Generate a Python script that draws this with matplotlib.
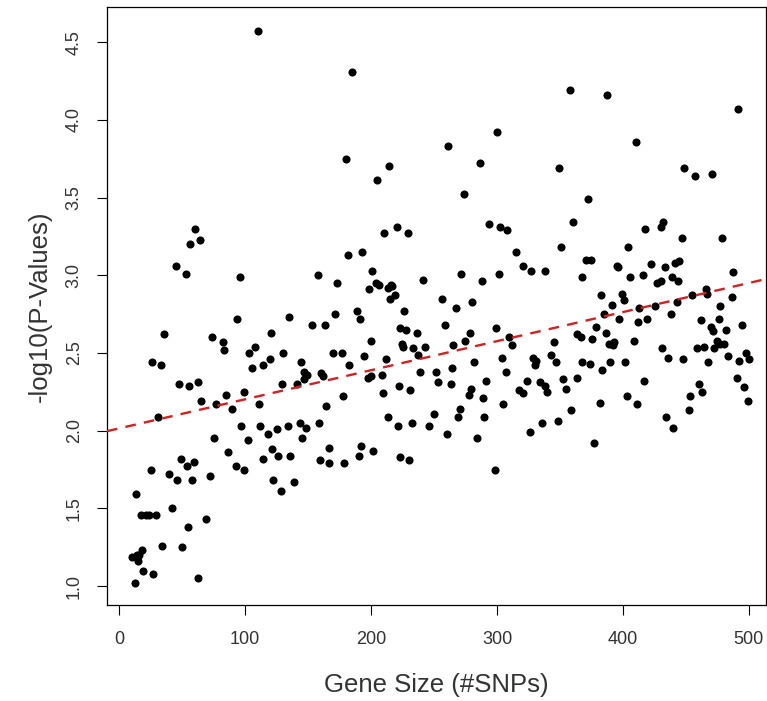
import matplotlib
matplotlib.use("Agg")
import matplotlib.pyplot as plt
import numpy as np

plt.rcParams['font.family'] = ['Liberation Sans', 'DejaVu Sans']

# Gene size (#SNPs) and -log10(P) values
gene_size = [
    30.5, 64.9, 76.5, 85, 89.8, 99.3, 111, 164.4,
    24.9, 13.3, 17, 21, 23.8, 28.9, 41.9, 54.6, 68.9, 34.2, 49.8,
    10.3, 13.8, 14.9, 18, 15.4, 19.1, 26.5, 12.2, 62.8,
    39.2, 46.1, 48.7, 53.8, 59.3, 57.5, 71.8, 75.5, 86.1, 92.7, 98.8, 96.4, 102.5,
    112, 117.9, 125.3, 133.7, 143.5, 148.3, 145.1, 158.6, 114.4, 121.3, 126.3,
    135.6, 122.3, 128.2, 138.8, 159.4, 166.8, 166.8,
    60.4, 56.2, 64.1, 45, 52.7, 95.6, 157.8, 93.5, 134.8, 152.8, 163.6, 35.5,
    73.6, 82.1, 83.2, 120.5, 108, 103.3, 130, 25.7, 33.4, 105.2, 113.9, 119.5,
    144.3, 146.7, 148.8, 146.5, 160.2, 47.2, 55.4, 62.3, 129, 141.4,
    110.2,
    184.6, 179.8, 204.4, 214.2, 261.1, 286.7, 300.2, 273.5,
    357.7, 387.4, 491.4, 410.2, 349, 448.5, 457, 470.5, 372,
    220.8, 210.2, 229.5, 293.6, 302.4, 308.2, 181.7, 193, 314.8, 320.4, 327,
    338.4, 200.7, 173.2, 198.1, 203.9, 206.5, 215.8, 213.7, 216.4, 215, 219.2,
    241, 271.6, 301.3, 287.8, 256.3, 280.1, 267.4, 226.4, 171.1, 188.6, 191.2,
    259, 299.2, 223.2, 227.7, 236.2, 278.3, 274.3, 309.3, 311.9, 199.7, 224.5,
    225.6, 233.3, 242.8, 264.8, 237.5, 170, 176.9, 194.1, 211.6, 282, 304.2,
    328.9, 330.2, 331, 182.7, 162, 239.1, 251.5, 264, 306.9, 197.3, 199.7,
    208.4, 253.1, 263.2, 291.5, 221.9, 231.1, 209.2, 177.9, 323.6, 317.7, 320.9,
    334.2, 338.1, 339.5, 279.3, 277.5, 288.6,
    304.8, 213.6, 221.2, 232.5, 249.7, 245.7, 260, 270.6, 268.8, 289.4, 284.1,
    326, 335.7, 178.7, 192.2, 190.4, 201.7, 222.7, 230.3, 298.4,
    360.4, 417.8, 430.3, 432.1, 446.7, 478.9, 350.8, 404.2, 370.9, 374.7, 367.3,
    395.3, 396.1, 422.6, 433.2, 441.4, 444.8, 405.4, 416, 439.2, 487.7, 427.3,
    430, 444, 382.4, 399.5, 400.6, 391.1, 385, 413, 425.7, 442.7, 454.9, 465.8,
    466.6, 486.7, 477.1, 437.9, 396.9, 412, 418.9, 378.6, 461.8, 476.1, 469.7,
    471.8, 481.9, 494.4, 363.8, 366.7, 375.7, 386.6, 389, 392.9, 391.9, 409.1,
    345.3, 474.5, 477.1, 480.3, 458.6, 464.6, 472.4, 431.3, 342.9, 347.1, 367.8,
    373.9, 390, 401.7, 383.4, 436.1, 447.5, 467.8, 483.2, 492.5, 497.8, 500.2,
    363.3, 352.7, 354.8, 416.8, 460.7, 462.8, 490.6, 496.4, 403.5, 453.3,
    348.2, 358.5, 381.6, 376.8, 411.2, 434, 439.8, 452.5, 499.1,
]
neg_log10_p = [
    2.09, 2.19, 2.17, 2.23, 2.14, 2.25, 2.17, 2.16,
    1.75, 1.59, 1.46, 1.46, 1.46, 1.46, 1.50, 1.38, 1.43, 1.26, 1.25,
    1.19, 1.20, 1.16, 1.23, 1.20, 1.10, 1.08, 1.02, 1.05,
    1.72, 1.68, 1.82, 1.77, 1.80, 1.68, 1.71, 1.95, 1.86, 1.77, 1.75, 2.03, 1.94,
    2.03, 1.98, 2.01, 2.03, 2.05, 2.02, 1.95, 2.05, 1.82, 1.88, 1.84,
    1.84, 1.68, 1.61, 1.67, 1.81, 1.89, 1.79,
    3.30, 3.20, 3.23, 3.06, 3.01, 2.99, 3.00, 2.72, 2.73, 2.68, 2.68, 2.62,
    2.60, 2.57, 2.52, 2.63, 2.54, 2.50, 2.50, 2.44, 2.42, 2.40, 2.42, 2.46,
    2.44, 2.38, 2.36, 2.33, 2.37, 2.30, 2.29, 2.31, 2.30, 2.30,
    4.57,
    4.31, 3.75, 3.61, 3.70, 3.83, 3.72, 3.92, 3.52,
    4.19, 4.16, 4.07, 3.86, 3.69, 3.69, 3.64, 3.65, 3.49,
    3.31, 3.27, 3.27, 3.33, 3.31, 3.29, 3.13, 3.15, 3.15, 3.06, 3.03,
    3.03, 3.03, 2.95, 2.91, 2.95, 2.94, 2.94, 2.92, 2.93, 2.85, 2.87,
    2.97, 3.01, 3.01, 2.96, 2.85, 2.83, 2.79, 2.77, 2.75, 2.77, 2.72,
    2.68, 2.66, 2.66, 2.65, 2.63, 2.63, 2.58, 2.60, 2.55, 2.58, 2.56,
    2.54, 2.53, 2.54, 2.55, 2.49, 2.50, 2.50, 2.48, 2.46, 2.44, 2.47,
    2.47, 2.42, 2.45, 2.42, 2.35, 2.38, 2.38, 2.40, 2.38, 2.34, 2.35,
    2.36, 2.31, 2.30, 2.32, 2.29, 2.26, 2.24, 2.22, 2.32, 2.26, 2.24,
    2.31, 2.29, 2.25, 2.27, 2.23, 2.21,
    2.17, 2.09, 2.03, 2.05, 2.11, 2.03, 1.98, 2.14, 2.09, 2.09, 1.95,
    1.99, 2.05, 1.79, 1.90, 1.84, 1.87, 1.83, 1.81, 1.75,
    3.34, 3.30, 3.31, 3.34, 3.24, 3.24, 3.18, 3.18, 3.10, 3.10, 2.99,
    3.06, 3.05, 3.07, 3.05, 3.08, 3.09, 2.99, 3.00, 2.99, 3.02, 2.95,
    2.96, 2.96, 2.87, 2.88, 2.84, 2.81, 2.75, 2.79, 2.80, 2.83, 2.87, 2.91,
    2.88, 2.86, 2.80, 2.75, 2.72, 2.70, 2.72, 2.67, 2.71, 2.72, 2.67,
    2.64, 2.65, 2.68, 2.62, 2.60, 2.59, 2.63, 2.56, 2.57, 2.55, 2.58,
    2.57, 2.58, 2.56, 2.56, 2.53, 2.54, 2.53, 2.53, 2.49, 2.44, 2.44,
    2.43, 2.44, 2.44, 2.39, 2.47, 2.46, 2.44, 2.48, 2.45, 2.50, 2.46,
    2.34, 2.33, 2.27, 2.32, 2.30, 2.25, 2.34, 2.28, 2.22, 2.22,
    2.06, 2.13, 2.18, 1.92, 2.17, 2.09, 2.02, 2.13, 2.19,
]

# Fitted regression line
fit_intercept = 2.015
fit_slope = 0.00187

x_ticks = [0, 100, 200, 300, 400, 500]
y_ticks = [1.0, 1.5, 2.0, 2.5, 3.0, 3.5, 4.0, 4.5]

fig = plt.figure(figsize=(7.67, 7.01), dpi=100)
ax = fig.add_axes([0.1395, 0.1369, 0.8592, 0.8531])

text_color = '#333333'

ax.scatter(gene_size, neg_log10_p, s=34, color='black', linewidths=0, zorder=2)

xlim = (-9.8, 513.7)
xs = np.array(xlim)
ax.plot(xs, fit_intercept + fit_slope * xs, color='#d42020', linewidth=1.7,
        linestyle=(0, (4.5, 3.5)), zorder=3)

ax.set_xlim(*xlim)
ax.set_ylim(0.878, 4.726)

ax.set_xticks(x_ticks)
ax.set_xticklabels([str(t) for t in x_ticks])
ax.set_yticks(y_ticks)
ax.set_yticklabels([f"{t:.1f}" for t in y_ticks], rotation=90, va='center')

ax.tick_params(axis='both', direction='out', length=7.5, width=0.8,
               labelsize=13, colors='black', labelcolor=text_color, pad=11)
ax.tick_params(axis='y', pad=10)

for sp in ax.spines.values():
    sp.set_linewidth(0.9)
    sp.set_color('black')

ax.set_xlabel('Gene Size (#SNPs)', fontsize=18.5, color=text_color, labelpad=18)
ax.set_ylabel('-log10(P-Values)', fontsize=18.5, color=text_color, labelpad=10)

fig.savefig('out.png', dpi=100, facecolor='white')
